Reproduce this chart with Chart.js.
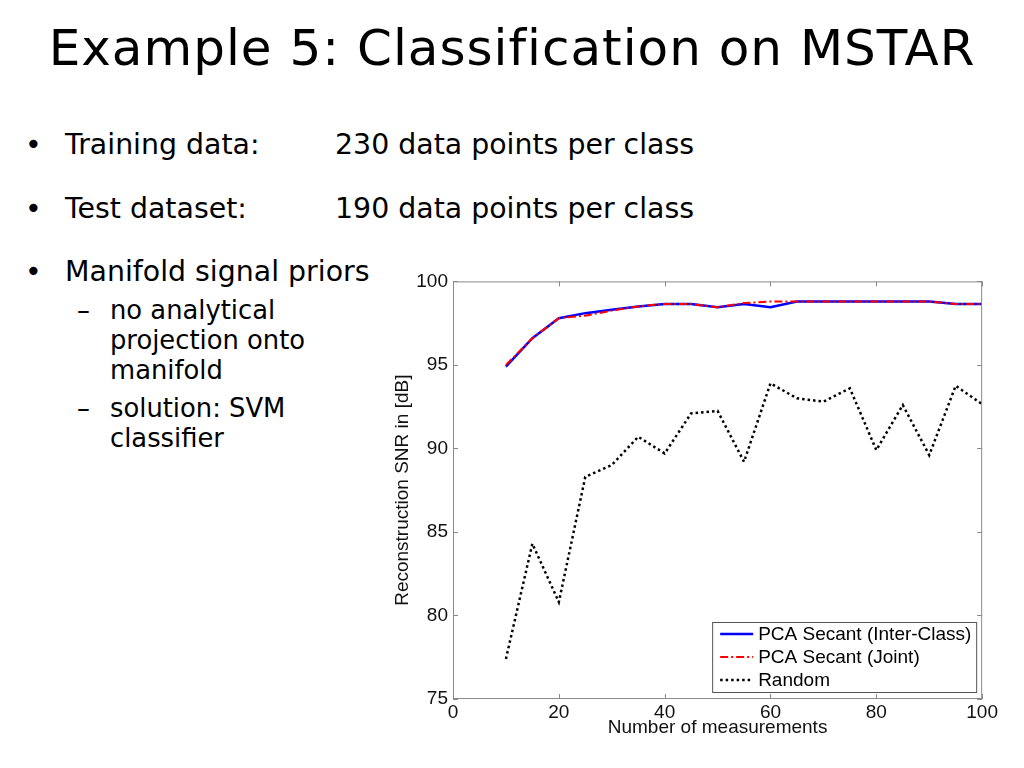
<!DOCTYPE html>
<html>
<head>
<meta charset="utf-8">
<script src="https://cdn.jsdelivr.net/npm/chart.js@4/dist/chart.umd.min.js"></script>
<style>
  body { margin: 0; background: #fff; }
  #page { position: relative; width: 1024px; height: 768px; overflow: hidden; font-family: "DejaVu Sans", Verdana, sans-serif; color: #000; }
  .t { position: absolute; white-space: nowrap; line-height: 1; }
  #title { left: 0; width: 1024px; text-align: center; top: 23px; font-size: 50px; letter-spacing: 1px; }
  .b { font-size: 28.4px; }
  .s { font-size: 25.8px; }
  #wrap { position: absolute; left: 380px; top: 265px; width: 620px; height: 490px; }
</style>
</head>
<body>
<div id="page">
  <div class="t" id="title">Example 5: Classification on MSTAR</div>

  <div class="t b" style="left:25px; top:131px;">•</div>
  <div class="t b" style="left:65px; top:131px;">Training data:</div>
  <div class="t b" style="left:335px; top:131px;">230 data points per class</div>

  <div class="t b" style="left:25px; top:195px;">•</div>
  <div class="t b" style="left:65px; top:195px;">Test dataset:</div>
  <div class="t b" style="left:335px; top:195px;">190 data points per class</div>

  <div class="t b" style="left:25px; top:258px;">•</div>
  <div class="t b" style="left:65px; top:258px;">Manifold signal priors</div>

  <div class="t s" style="left:77px; top:298px;">–</div>
  <div class="t s" style="left:110px; top:298px;">no analytical</div>
  <div class="t s" style="left:110px; top:328px;">projection onto</div>
  <div class="t s" style="left:110px; top:358px;">manifold</div>
  <div class="t s" style="left:77px; top:396px;">–</div>
  <div class="t s" style="left:110px; top:396px;">solution: SVM</div>
  <div class="t s" style="left:110px; top:426px;">classifier</div>

  <div id="wrap"><canvas id="chart"></canvas></div>
</div>
<script>
// Chart values
const measurements = [10, 15, 20, 25, 30, 35, 40, 45, 50, 55, 60, 65, 70, 75, 80, 85, 90, 95, 100];
const interClass = [94.9, 96.6, 97.8, 98.1, 98.3, 98.5, 98.65, 98.65, 98.45, 98.65, 98.45, 98.8, 98.8, 98.8, 98.8, 98.8, 98.8, 98.65, 98.65];
const joint = [95.0, 96.6, 97.8, 97.95, 98.25, 98.5, 98.65, 98.65, 98.45, 98.7, 98.8, 98.8, 98.8, 98.8, 98.8, 98.8, 98.8, 98.65, 98.65];
const random = [77.4, 84.3, 80.8, 88.3, 89.0, 90.7, 89.7, 92.1, 92.25, 89.2, 93.9, 93.0, 92.8, 93.6, 89.9, 92.6, 89.6, 93.75, 92.65];
const seriesLabels = ["PCA Secant (Inter-Class)", "PCA Secant (Joint)", "Random"];
const xTicks = [0, 20, 40, 60, 80, 100];
const yTicks = [75, 80, 85, 90, 95, 100];

const toPoints = (ys) => measurements.map((x, i) => ({ x: x, y: ys[i] }));

const axisFont = { family: "'Liberation Sans', Arial, sans-serif", size: 19 };
const frameColor = "#8a8a8a";

// Box around the plot and inward tick marks, MATLAB style
const framePlugin = {
  id: "frame",
  afterDraw(chart) {
    const { ctx, chartArea: a, scales } = chart;
    ctx.save();
    ctx.strokeStyle = frameColor;
    ctx.lineWidth = 1;
    ctx.strokeRect(a.left + 0.5, a.top + 0.5, a.right - a.left - 1, a.bottom - a.top - 1);
    const len = 5;
    ctx.beginPath();
    xTicks.forEach((v) => {
      const px = Math.round(scales.x.getPixelForValue(v)) + 0.5;
      ctx.moveTo(px, a.bottom); ctx.lineTo(px, a.bottom - len);
      ctx.moveTo(px, a.top); ctx.lineTo(px, a.top + len);
    });
    yTicks.forEach((v) => {
      const py = Math.round(scales.y.getPixelForValue(v)) + 0.5;
      ctx.moveTo(a.left, py); ctx.lineTo(a.left + len, py);
      ctx.moveTo(a.right, py); ctx.lineTo(a.right - len, py);
    });
    ctx.stroke();
    ctx.restore();
  },
};

// Legend box drawn inside the lower right corner of the plot
const legendPlugin = {
  id: "insideLegend",
  afterDraw(chart) {
    const { ctx, chartArea: a } = chart;
    const w = 264, h = 70;
    const x0 = a.right - 6 - w, y0 = a.bottom - 7 - h;
    ctx.save();
    ctx.fillStyle = "#fff";
    ctx.fillRect(x0, y0, w, h);
    ctx.strokeStyle = "#555";
    ctx.lineWidth = 1;
    ctx.strokeRect(x0 + 0.5, y0 + 0.5, w, h);
    ctx.font = "19px 'Liberation Sans', Arial, sans-serif";
    ctx.textBaseline = "middle";
    ctx.fillStyle = "#000";
    chart.data.datasets.forEach((ds, i) => {
      const y = y0 + 12 + i * 23;
      ctx.beginPath();
      ctx.strokeStyle = ds.borderColor;
      ctx.lineWidth = ds.borderWidth;
      ctx.setLineDash(ds.borderDash || []);
      ctx.moveTo(x0 + 8, y);
      ctx.lineTo(x0 + 41, y);
      ctx.stroke();
      ctx.setLineDash([]);
      ctx.fillText(ds.label, x0 + 46, y + 1);
    });
    ctx.restore();
  },
};

const canvas = document.getElementById("chart");

new Chart(canvas, {
  type: "line",
  data: {
    datasets: [
      {
        label: seriesLabels[0],
        data: toPoints(interClass),
        borderColor: "#0000ff",
        borderWidth: 2.5,
        pointRadius: 0,
        order: 2,
      },
      {
        label: seriesLabels[1],
        data: toPoints(joint),
        borderColor: "#ff0000",
        borderWidth: 2,
        borderDash: [8, 3, 2, 3],
        pointRadius: 0,
        order: 1,
      },
      {
        label: seriesLabels[2],
        data: toPoints(random),
        borderColor: "#000000",
        borderWidth: 2.5,
        borderDash: [2.5, 3],
        pointRadius: 0,
        order: 3,
      },
    ],
  },
  options: {
    responsive: true,
    maintainAspectRatio: false,
    animation: false,
    layout: { padding: { top: 14, right: 17, left: 0, bottom: 0 } },
    plugins: {
      legend: { display: false },
      tooltip: { enabled: false },
    },
    scales: {
      x: {
        type: "linear",
        min: 0,
        max: 100,
        afterBuildTicks: (scale) => { scale.ticks = xTicks.map((v) => ({ value: v })); },
        afterFit: (scale) => { scale.height = 56; },
        grid: { display: false, drawTicks: false, tickLength: 0 },
        border: { display: false },
        ticks: { font: axisFont, color: "#111", padding: 2, maxRotation: 0 },
        title: {
          display: true,
          text: "Number of measurements",
          font: axisFont,
          color: "#111",
          padding: { top: 0, bottom: 16 },
        },
      },
      y: {
        min: 75,
        max: 100,
        afterBuildTicks: (scale) => { scale.ticks = yTicks.map((v) => ({ value: v })); },
        afterFit: (scale) => { scale.width = 73; },
        grid: { display: false, drawTicks: false, tickLength: 0 },
        border: { display: false },
        ticks: { font: axisFont, color: "#111", padding: 5 },
        title: {
          display: true,
          text: "Reconstruction SNR in [dB]",
          font: axisFont,
          color: "#111",
          padding: { top: 11, bottom: 0 },
        },
      },
    },
  },
  plugins: [framePlugin, legendPlugin],
});
</script>
</body>
</html>
